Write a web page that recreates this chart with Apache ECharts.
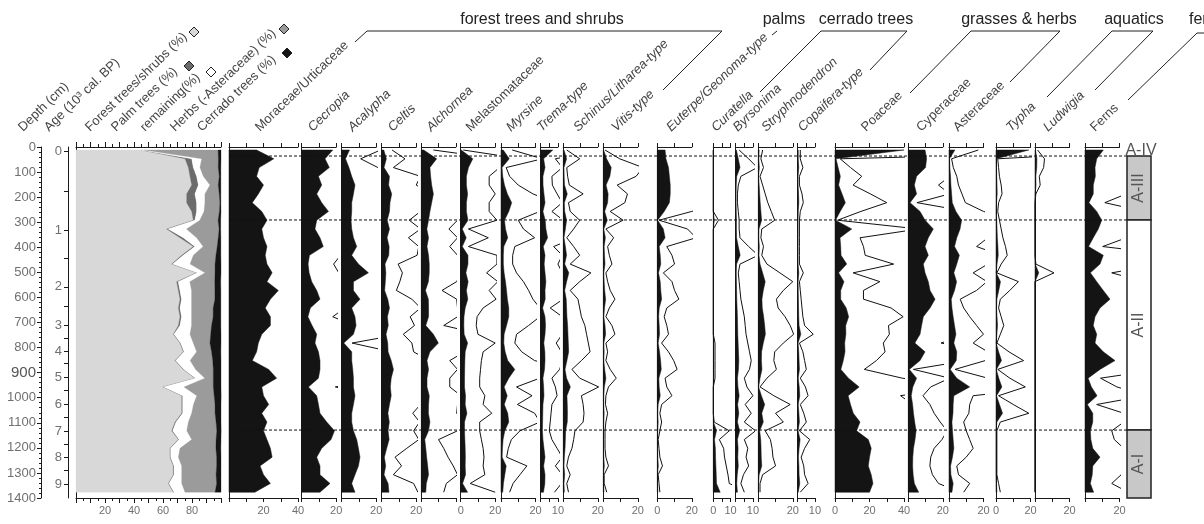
<!DOCTYPE html>
<html><head><meta charset="utf-8">
<script src="https://cdn.jsdelivr.net/npm/echarts@6/dist/echarts.min.js"></script>
<style>html,body{margin:0;padding:0;background:#fff}#c{width:1204px;height:524px}</style>
</head><body><div id="c"></div>
<script>
// ---------------- DATA ----------------
const depths = [12,47,82,117,152,187,222,257,292,327,362,397,432,467,502,537,572,607,642,677,712,747,782,817,852,887,922,957,992,1027,1062,1097,1132,1167,1202,1237,1272,1307,1342,1377];

const ageLabels = [0,1,2,3,4,5,6,7,8,9];
const ageDepths = [16,331,558,710,814,918,1025,1135,1237,1344];
const ageHalfDepths = [178,444,637,763,863,969,1078,1185,1288];

const summaryNames = ['Forest trees/shrubs (%)','Palm trees (%)','remaining(%)','Herbs (-Asteraceae) (%)','Cerrado trees (%)'];
const forest = [45,75.2,77.5,78.6,79.8,76.3,76.3,79.8,80.9,62.5,71.7,80.9,72.9,66.0,83.2,69.4,70.6,71.7,70.6,71.7,70.6,67.1,71.7,74.0,68.3,74,82,60,72.9,72.9,72.9,68.3,66.0,70.6,64.8,64.8,67.1,67.1,63.7,67.1];
const palm = [0,4.6,3.4,4.6,4.6,5.7,6.9,3.4,1.1,1.1,2.3,1.1,1.1,0.7,0.5,1.1,1.1,1.1,1.1,1.1,1.1,0.5,0.5,0.5,0.5,0.5,0.5,0.5,0.7,0.7,0.7,0.7,0.7,0.5,0.5,0.5,0.5,0.5,0.5,0.5];
const remaining = [2,6.9,4.6,4.6,8.0,6.9,5.7,5.1,3.4,12.6,9.2,5.7,6.9,12.0,5.3,8.0,8.0,6.9,8.0,6.9,8.0,11.0,8.7,8.7,9.9,8,6.4,14,9.7,7.4,6.2,8.5,9.7,8.7,6.4,5.3,5.3,5.3,8.7,7.6];
const herbs = [51,11.5,12.6,11.0,5.7,9.9,10.3,10.6,12.6,22.5,14.9,9.7,15.6,17.2,6.9,17.2,16.1,16.1,14.9,14.9,13.8,14.3,11.5,10.3,15.6,12.2,5.8,20.2,12.0,14.9,16.1,19.1,20.7,16.8,24.8,26.4,24.1,23.7,24.1,20.7];
const cerrado = [2,1.8,1.8,1.1,1.8,1.1,0.7,1.1,1.8,1.1,1.8,2.5,3.4,4.1,4.1,4.1,4.1,4.1,5.3,5.3,6.4,7.1,7.6,6.4,5.7,5.3,5.3,5.3,4.8,4.1,4.1,3.4,3.0,3.4,3.4,3.0,3.0,3.4,3.0,4.1];

const taxaNames = ['Moraceae/Urticaceae','Cecropia','Acalypha','Celtis','Alchornea','Melastomataceae','Myrsine','Trema-type','Schinus/Litharea-type','Vitis-type','Euterpe/Geonoma-type','Curatella','Byrsonima','Stryphnodendron','Copaifera-type','Poaceae','Cyperaceae','Asteraceae','Typha','Ludwigia','Ferns'];
const taxaMax = [40,20,20,20,20,20,20,10,20,20,20,10,10,20,10,40,20,20,20,20,20];
const taxaTickLabels = [[20,40],[20],[20],[20],[],[0,20],[20],[10],[20],[20],[0,20],[0,10],[10],[20],[10],[0,20,40],[20],[20],[0,20],[20],[20]];
const exaggeration = 5;

const moraceae = [16,26,17.5,16,20,17,13.5,19,22,19,20,22,21,22,25,22,28.6,24,21,24,24,19,17,16,13.5,23,27.6,19,20,23,19,22,20,22,24,25,18,20,24,15];
const cecropia = [18,13.5,16,9.7,11.6,8.7,11.6,15.5,8.7,7.7,10.6,12.5,4.5,3.7,4.3,5.8,8.7,10.6,5,3.6,6,8.7,7.7,9.7,10.6,10.6,9.7,3.9,8.7,9.7,10.6,14.5,19,17,11.6,8.7,10.6,10.6,16.4,10.6];
const acalypha = [4.5,2.2,4.2,5.8,7.7,6.8,5.8,5.8,5.4,5.8,6.8,8.7,5.8,9.7,15.5,6.8,6.8,10.6,5.8,7.7,8.3,6.8,1.2,5.8,5.8,6.4,6.8,6.8,7.7,6.8,5.8,5.8,6.8,8.7,9.7,10.6,9.7,7.7,5.8,7.7];
const celtis = [1.2,2.7,1.35,4.5,4.0,5.8,4.8,4.5,3.2,4.5,3.1,4.3,4.1,1.9,2.4,2.1,1.7,3.5,4.5,3.3,3.8,2.5,3.5,3.7,5.5,6.8,5.5,5,5.5,4.5,3.6,4.4,3.7,4.3,2.9,1.55,2.3,1.35,3.7,4.2];
const alchornea = [1.4,8.9,5,5.4,6,7,6,5,4.2,3.2,4.2,3.3,4.2,4.6,4.6,4.1,2.4,4.1,4.2,4.2,2.6,7,9.9,5,3.3,4.2,3.3,3.3,4.6,4.2,4.1,5,4.2,2.0,2.6,3.1,3.7,4.2,2.9,2.6];
const melastomataceae = [0.3,7,4.5,3.3,3.3,4.0,3.3,3.3,4.2,0.9,3.2,0.9,4.2,4.2,3.0,4.3,3.3,4.1,2.6,1.9,1.8,2.0,4.0,2.6,2.4,2.3,2.2,2.2,2.8,2.6,3.6,2.2,2.2,2.4,2.6,2.7,2.6,2.8,1.1,4];
const myrsine = [1.3,4.8,0.6,1.0,2.0,3.7,6.2,4.5,2.0,2.6,3.9,1.6,1.35,1.35,1.8,2.6,3.2,3.7,4.5,4.5,3.2,1.8,1.6,2.4,3.9,8,4.5,1.8,3.6,1.9,3.9,4.5,2.2,1.2,0.85,0.65,3.0,2.2,1.4,1.0];
const trema = [7,1.7,2.5,1.3,1.35,1.9,2.5,1.3,2.6,3,4,1.5,2.5,2.0,2.5,3,2.5,2.6,1.1,2.5,2.8,2.5,1.8,2.4,2.5,2.2,1.3,1.7,1.9,1.3,1.2,1.1,1.0,1.3,1.9,2.5,1.7,2.5,2.4,1.6];
const schinus = [0.4,1.9,0.4,0.5,0.7,2.3,0.6,0.8,1.9,1.2,0.4,1.2,1.9,0.8,3.2,1.9,0.8,1.7,1.9,2.1,2.5,2.7,2.9,3.1,2.1,1.0,1.9,4.1,2.1,2.3,2.4,2.3,1.35,1.2,1.0,0.6,0.4,0.8,0.4,0.6];
const vitis = [0.2,1.9,4.6,3.8,1.6,2.8,2.5,0.8,2.3,0.3,1.2,0.5,0.7,1.0,0.3,0.5,0.8,1.35,0.7,0.3,1.0,1.35,0.3,0.5,0.3,0.8,1.5,0.6,0.3,0.25,0.5,0.3,0.2,0.2,0.2,0.3,0.6,0.1,0.1,0.4];
const euterpe = [4.5,5,6.5,7,7.5,7.5,7,4,0.2,3.5,4.5,1.1,1.7,2.0,0.7,1.7,2.0,2.5,1.1,0.8,1.1,1.3,0.5,1.3,1.9,2.3,0.9,1.1,1.7,0.5,0.3,0.5,0.3,0.1,0.2,0.3,0.6,0.1,0.2,0.3];
const curatella = [0,0,0,0,0,0,0,0,0.6,0,0,0,0,0,0,0,0,0,0,0,0,0,0.2,0.2,0.2,0.2,0.2,0,0,0,0,0.1,1.85,0.7,1.2,1.3,1.5,1.7,1.85,4];
const byrsonima = [0.4,1.5,2.5,0.6,0.3,0.2,0.2,0.3,0.4,0.4,0.5,1.5,2.6,0.5,0.3,0.4,0.5,0.6,0.8,1.0,1.1,1.2,1.4,1.6,1.8,1.6,1.0,1.3,2.0,1.1,1.8,1.0,2.3,1.0,1.4,1.2,1.5,0.9,0.6,1.0];
const stryphnodendron = [0.5,0.3,0.6,0.2,0.5,0.8,1.1,1.5,1.9,0.4,0.3,0.6,0.4,1.0,2.5,4.0,2.9,2.1,2.3,3.1,3.7,4.1,2.9,1.9,1.8,2.1,1.0,0.2,1.8,3.7,2.0,2.9,0.8,1.4,1.6,1.7,2.0,0.5,0.2,0.2];
const copaifera = [0.3,0.3,0.6,0.2,0.2,0.5,0.65,0.3,0.2,0.2,0.2,0.2,0.2,0.2,0.65,0.2,0.3,0.4,0.5,0.6,0.8,1.8,0.2,0.6,0.8,1.0,0.3,0.9,1.2,0.3,0.7,1.0,0.2,1.4,0.8,0.4,0.7,0.8,1.2,0.3];
const poaceae = [40,0.6,1.8,3.1,2.1,4.1,6.0,3.0,0.3,9.7,2.9,3.3,3.5,6.8,2.1,5.2,3.3,3.3,6.5,7.9,6.2,6.3,5.6,5.8,4.8,3.4,7.8,14,7.6,9,10.6,14.5,12.5,19.3,21,20,19.3,21,22,20];
const cyperaceae = [9.7,10.6,10,4.8,3.5,4.8,1.0,6.8,9.7,14.5,11.6,9.7,11.6,8.7,9.7,11.6,12.6,15.5,12.6,8.7,7.7,6.8,3.8,9.7,6.8,0.6,4.8,2.6,1.7,2.5,3.0,3.7,4.5,3.9,3.0,2.6,2.5,2.8,3.5,6];
const asteraceae = [3.4,0.3,0.5,0.9,1.1,1.5,1.9,4,7.3,6.4,4.5,3.2,6,4.5,2.8,4.4,3.2,1.3,1.7,2.4,3.2,4.0,2.8,4.5,4.2,0.7,4.5,12,2.8,2.4,2.3,1.7,2.0,2.4,2.8,2.0,0.9,1.1,2.4,1.7];
const typha = [19,0.2,0.3,0.4,0.6,0.7,0.3,0.2,0.4,0.6,0.8,1.1,1.3,0.6,0.1,2.6,1.6,0.5,0.3,0.6,0.9,0.5,0.1,1.5,3.2,0.2,1.6,3.4,0.3,2.0,3.8,0.5,0.1,0.1,0.1,0.1,0.1,0.1,0.3,0.5];
const ludwigia = [0.3,1.1,1.0,0.5,0.6,0.1,0,0,0,0,0,0,0,0.1,2.2,0,0,0,0,0,0,0,0,0,0,0,0,0,0,0,0,0,0,0,0,0,0,0,0,0];
const ferns = [10.6,6.8,5.8,6,4.8,4.8,2.3,6.8,9.7,7.7,4.8,2.05,10.6,8.7,3.1,6.8,10.6,14.5,8.7,5.8,4.8,6.8,5.8,10.6,17.4,8.7,1.8,3.7,7,1.35,4.5,4.5,3.1,3.4,4.5,8.7,4.5,4.2,3.1,5];

const taxaValues = [moraceae,cecropia,acalypha,celtis,alchornea,melastomataceae,myrsine,trema,schinus,vitis,euterpe,curatella,byrsonima,stryphnodendron,copaifera,poaceae,cyperaceae,asteraceae,typha,ludwigia,ferns];

const zoneNames = ['A-IV','A-III','A-II','A-I'];
const zoneTops = [0,36,291,1129];
const zoneBottoms = [36,291,1129,1400];
const zoneBoundaries = [36,291,1129];

const groupNames = ['forest trees and shrubs','palms','cerrado trees','grasses & herbs','aquatics','ferns'];

// ---------------- LAYOUT / STYLE ----------------
const FONT = '"Liberation Sans", Arial, Helvetica, sans-serif';
const TOP = 147, H = 351, PX = 1.725;
const panelLeft = [229,301.7,341.7,381.7,421.3,460.7,501,540.7,563.3,603.3,657.3,713.3,735.7,758.3,797.7,835,908.3,949,996,1035,1085];
const headerOffset = [33,13,13,13,12,12,12,3,17,15,16,5,4,10,7,33,15,11,17,15,12];
const taxaItalic = [0,1,1,1,1,0,1,1,1,1,1,1,1,1,1,0,0,0,1,1,0];
const summaryColors = ['#d8d8d8','#6c6c6c','#ffffff','#9b9b9b','#151515'];
const summaryHeaderX = [92,118,147,177,204];
const diamondPos = [[194,32],[189,66],[211,72],[284,29],[287,53]];
const zoneFill = [null,'#c8c8c8','#ffffff','#c8c8c8'];
const AX = '#1a1a1a', LBL = '#707070';

const grids = [], xAxes = [], yAxes = [], series = [];

function xAxisDef(gi, pos, max, interval, labels, minor) {
  return {
    type:'value', gridIndex:gi, position:pos, min:0, max:max, interval:interval,
    axisLine:{show:true, onZero:false, lineStyle:{color:AX, width:1}},
    axisTick:{show:true, length: minor ? 5 : 4, lineStyle:{color:AX, width:1}},
    minorTick: minor ? {show:true, splitNumber:2, length:3, lineStyle:{color:AX}} : {show:false},
    axisLabel: (pos === 'bottom' && labels.length) ? {
      show:true, color:LBL, fontSize:11, fontFamily:FONT, margin:7, showMinLabel:true, showMaxLabel:true,
      formatter: v => labels.indexOf(v) >= 0 ? String(v) : ''
    } : {show:false},
    splitLine:{show:false}, minorSplitLine:{show:false}
  };
}
function yFrame(gi) {
  return {type:'value', gridIndex:gi, inverse:true, min:0, max:1400,
    axisLine:{show:true, onZero:false, lineStyle:{color:AX, width:1}},
    axisTick:{show:false}, axisLabel:{show:false}, splitLine:{show:false}};
}

// Summary grid (0)
grids.push({left:76, top:TOP, width:145, height:H});
xAxes.push(xAxisDef(0,'top',100,10,[],true));
xAxes.push(xAxisDef(0,'bottom',100,10,[20,40,60,80],true));
yAxes.push(yFrame(0));
// depth axis
yAxes.push({type:'value', gridIndex:0, position:'left', offset:35, inverse:true, min:0, max:1400, interval:100,
  axisLine:{show:true, onZero:false, lineStyle:{color:AX}},
  axisTick:{show:true, length:4, lineStyle:{color:AX}},
  minorTick:{show:true, splitNumber:5, length:2, lineStyle:{color:AX}},
  axisLabel:{show:true, color:LBL, fontSize:13, fontFamily:FONT, margin:5,
    formatter: v => v === 900 ? '{b|900}' : String(v),
    rich:{b:{fontSize:15, color:'#555', fontFamily:FONT}}},
  splitLine:{show:false}});
// age axis
yAxes.push({type:'value', gridIndex:0, position:'left', offset:8, inverse:true, min:0, max:1400,
  axisLine:{show:true, onZero:false, lineStyle:{color:AX}},
  axisTick:{show:true, length:4, lineStyle:{color:AX}, customValues: ageDepths.concat(ageHalfDepths)},
  axisLabel:{show:true, color:LBL, fontSize:13, fontFamily:FONT, margin:6, customValues: ageDepths,
    formatter: v => { const k = ageDepths.indexOf(v); return k >= 0 ? String(ageLabels[k]) : ''; }},
  splitLine:{show:false}});

// summary stacked polygons
const summaryArrays = [forest, palm, remaining, herbs, cerrado];
const cum = [depths.map(() => 0)];
summaryArrays.forEach((arr, k) => cum.push(cum[k].map((c, i) => c + arr[i])));
summaryArrays.forEach((arr, k) => {
  series.push({type:'custom', name:summaryNames[k], xAxisIndex:0, yAxisIndex:0, silent:true, data:[[0,0]],
    renderItem:(p, api) => {
      const pts = [];
      for (let i = 0; i < depths.length; i++) pts.push(api.coord([cum[k+1][i], depths[i]]));
      for (let i = depths.length - 1; i >= 0; i--) pts.push(api.coord([cum[k][i], depths[i]]));
      return {type:'polygon', shape:{points:pts}, style:{fill:summaryColors[k], stroke:summaryColors[k], lineWidth:0.3}};
    }});
});

// taxa panels
taxaValues.forEach((vals, t) => {
  const gi = t + 1, max = taxaMax[t];
  grids.push({left:panelLeft[t], top:TOP, width:max*PX, height:H});
  const interval = max === 10 ? 5 : 10;
  xAxes.push(xAxisDef(gi,'top',max,interval,[],false));
  xAxes.push(xAxisDef(gi,'bottom',max,interval,taxaTickLabels[t],false));
  yAxes.push(yFrame(gi));
  const xi = 2*gi, yi = 2 + gi;
  series.push({type:'custom', name:taxaNames[t], xAxisIndex:xi, yAxisIndex:yi, silent:true, data:[[0,0]],
    renderItem:(p, api) => {
      const pts = [api.coord([0, depths[0]])];
      vals.forEach((v, i) => pts.push(api.coord([v, depths[i]])));
      pts.push(api.coord([0, depths[depths.length-1]]));
      return {type:'polygon', shape:{points:pts}, style:{fill:'#141414', stroke:'#141414', lineWidth:0.5}};
    }});
  series.push({type:'line', name:taxaNames[t] + ' x' + exaggeration, xAxisIndex:xi, yAxisIndex:yi, silent:true,
    symbol:'none', clip:true, lineStyle:{color:'#111', width:1},
    data: vals.map((v, i) => [v * exaggeration, depths[i]])});
});

// overlay grid for zone boundaries
const ovG = grids.length;
grids.push({left:229, top:TOP, width:1127-229, height:H});
xAxes.push({type:'value', gridIndex:ovG, min:0, max:1, show:false});
yAxes.push({type:'value', gridIndex:ovG, min:0, max:1400, inverse:true, show:false});
series.push({type:'custom', xAxisIndex:xAxes.length-1, yAxisIndex:yAxes.length-1, silent:true, z:5,
  data: zoneBoundaries.map(d => [0, d]),
  renderItem:(p, api) => {
    const d = zoneBoundaries[p.dataIndex];
    const a = api.coord([0, d]), b = api.coord([1, d]);
    return {type:'line', shape:{x1:a[0], y1:a[1], x2:b[0], y2:b[1]}, style:{stroke:'#111', lineWidth:1, lineDash:[3,2]}};
  }});

// zone column
const zG = grids.length;
grids.push({left:1127, top:TOP, width:24, height:H});
xAxes.push({type:'value', gridIndex:zG, min:0, max:1, show:false});
yAxes.push({type:'value', gridIndex:zG, min:0, max:1400, inverse:true, show:false});
series.push({type:'custom', xAxisIndex:xAxes.length-1, yAxisIndex:yAxes.length-1, silent:true, z:6,
  data: zoneNames.map((n, i) => [0, zoneTops[i]]),
  renderItem:(p, api) => {
    const i = p.dataIndex;
    const a = api.coord([0, zoneTops[i]]), b = api.coord([1, zoneBottoms[i]]);
    const ch = [];
    if (zoneFill[i]) ch.push({type:'rect', shape:{x:a[0], y:a[1], width:b[0]-a[0], height:b[1]-a[1]},
      style:{fill:zoneFill[i], stroke:'#222', lineWidth:1.5}});
    ch.push({type:'text', x:(a[0]+b[0])/2 + (zoneFill[i] ? 0 : 2), y:(a[1]+b[1])/2 - (zoneFill[i] ? 0 : 1),
      rotation: zoneFill[i] ? Math.PI/2 : 0,
      style:{text:zoneNames[i], fill:'#555', font:'16px ' + FONT, textAlign:'center', textVerticalAlign:'middle'}});
    return {type:'group', children:ch};
  }});

// ---------------- GRAPHIC (headers, brackets) ----------------
const ROT = 44 * Math.PI / 180;
const graphics = [];
function header(text, x, italic) {
  graphics.push({type:'text', x:x, y:134, rotation:ROT, silent:true,
    style:{text:text, fill:'#444', font:(italic ? 'italic ' : '') + '13px ' + FONT, textAlign:'left', textVerticalAlign:'bottom'}});
}
header('Depth (cm)', 25, false);
header('Age (10³ cal. BP)', 51, false);
summaryNames.forEach((n, k) => header(n, summaryHeaderX[k], false));
taxaNames.forEach((n, t) => header(n, panelLeft[t] + headerOffset[t], taxaItalic[t]));
diamondPos.forEach((p, k) => graphics.push({type:'polygon', x:p[0], y:p[1], silent:true,
  shape:{points:[[0,-5],[5,0],[0,5],[-5,0]]}, style:{fill:summaryColors[k], stroke:'#222', lineWidth:1}}));

const groupCenters = [[542,'center'],[784,'center'],[866,'center'],[1019,'center'],[1134,'center'],[1189,'left']];
groupNames.forEach((g, k) => graphics.push({type:'text', x:groupCenters[k][0], y:20, silent:true,
  style:{text:g, fill:'#222', font:'16px ' + FONT, textAlign:groupCenters[k][1], textVerticalAlign:'middle'}}));

const brackets = [
  [[355,42],[367,31],[722,31],[663,90]],
  [[772,35],[777,31]],
  [[760,92],[821,31],[907,31],[870,70]],
  [[910,93],[971,31],[1060,31],[1010,82]],
  [[1047,97],[1112,31],[1153,31],[1095,90]],
  [[1128,100],[1197,33],[1215,33]]
];
brackets.forEach(b => graphics.push({type:'polyline', silent:true, shape:{points:b}, style:{stroke:'#222', lineWidth:1, fill:null}}));

// ---------------- CHART ----------------
const chart = echarts.init(document.getElementById('c'), null, {renderer:'canvas'});
chart.setOption({
  animation:false,
  backgroundColor:'#ffffff',
  textStyle:{fontFamily:FONT},
  grid:grids, xAxis:xAxes, yAxis:yAxes, series:series, graphic:graphics
});
</script>
</body></html>
